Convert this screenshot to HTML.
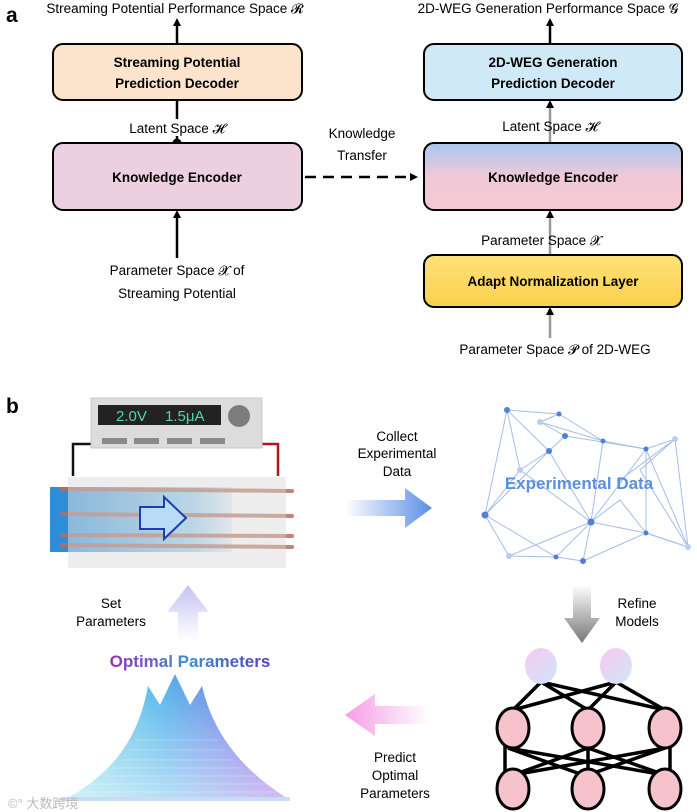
<!DOCTYPE html>
<html><head><meta charset="utf-8"><style>
body{margin:0;background:#fff;}
svg{display:block;font-family:"Liberation Sans",sans-serif;}
</style></head><body>
<svg width="697" height="812" viewBox="0 0 697 812" xmlns="http://www.w3.org/2000/svg">
<defs>
<marker id="ah" markerWidth="8" markerHeight="8" refX="4" refY="4" orient="auto" markerUnits="userSpaceOnUse" viewBox="0 0 8 8"><path d="M0,0 L8,4 L0,8z" fill="#000"/></marker>
<linearGradient id="enc2" x1="0" y1="0" x2="0" y2="1"><stop offset="0" stop-color="#a9c7ef"/><stop offset="0.5" stop-color="#efc9d8"/><stop offset="1" stop-color="#f6c9d2"/></linearGradient>
<linearGradient id="yel" x1="0" y1="0" x2="0" y2="1"><stop offset="0" stop-color="#fde27a"/><stop offset="1" stop-color="#fbcf4c"/></linearGradient>
<linearGradient id="blueArr" x1="0" y1="0" x2="1" y2="0"><stop offset="0" stop-color="#fff"/><stop offset="1" stop-color="#5b8ee6"/></linearGradient>
<linearGradient id="grayArr" x1="0" y1="0" x2="0" y2="1"><stop offset="0" stop-color="#fff"/><stop offset="1" stop-color="#777"/></linearGradient>
<linearGradient id="pinkArr" x1="1" y1="0" x2="0" y2="0"><stop offset="0" stop-color="#fff"/><stop offset="1" stop-color="#f59de6"/></linearGradient>
<linearGradient id="purpArr" x1="0" y1="1" x2="0" y2="0"><stop offset="0" stop-color="#fff"/><stop offset="1" stop-color="#c6c2f2"/></linearGradient>
<linearGradient id="optT" x1="0" y1="0" x2="1" y2="0"><stop offset="0" stop-color="#9a2fb3"/><stop offset="0.5" stop-color="#3b8fd6"/><stop offset="1" stop-color="#5a3bb8"/></linearGradient>
<linearGradient id="mtn" x1="0" y1="0" x2="1" y2="0"><stop offset="0" stop-color="#7fe0e8"/><stop offset="0.45" stop-color="#3aa8e8"/><stop offset="1" stop-color="#8a3be0"/></linearGradient>
<linearGradient id="mtnV" x1="0" y1="0" x2="0" y2="1"><stop offset="0" stop-color="#fff" stop-opacity="0"/><stop offset="1" stop-color="#fff" stop-opacity="0.6"/></linearGradient>
<linearGradient id="nodeT" x1="0" y1="0" x2="1" y2="1"><stop offset="0" stop-color="#f8c8f0"/><stop offset="1" stop-color="#cfe6f8"/></linearGradient>
<linearGradient id="chan" x1="0" y1="0" x2="1" y2="0"><stop offset="0" stop-color="#3f98dc"/><stop offset="0.8" stop-color="#a9d6f2"/><stop offset="1" stop-color="#e8f3fa"/></linearGradient>
</defs>

<text x="6" y="22" font-size="21" font-weight="bold">a</text>
<text x="175" y="13" font-size="13.5" text-anchor="middle">Streaming Potential Performance Space 𝓡</text>
<line x1="177" y1="44" x2="177" y2="22" stroke="#000" stroke-width="2.5" marker-end="url(#ah)"/>
<rect x="53" y="44" width="249" height="56" rx="10" fill="#fbe4cb" stroke="#000" stroke-width="2"/>
<text x="177" y="67" font-size="13.5" font-weight="bold" text-anchor="middle">Streaming Potential</text>
<text x="177" y="88" font-size="13.5" font-weight="bold" text-anchor="middle">Prediction Decoder</text>
<line x1="177" y1="100" x2="177" y2="143" stroke="#000" stroke-width="2.5"/>
<rect x="118" y="119" width="118" height="17" fill="#fff"/>
<text x="177" y="133" font-size="13.5" text-anchor="middle">Latent Space 𝓗</text>
<circle cx="177" cy="143" r="4.5" fill="#000"/>
<rect x="53" y="143" width="249" height="67" rx="10" fill="#ecd0df" stroke="#000" stroke-width="2"/>
<text x="177" y="182" font-size="13.5" font-weight="bold" text-anchor="middle">Knowledge Encoder</text>
<line x1="177" y1="258" x2="177" y2="214" stroke="#000" stroke-width="2.5" marker-end="url(#ah)"/>
<text x="177" y="275" font-size="13.5" text-anchor="middle">Parameter Space 𝓧 of</text>
<text x="177" y="298" font-size="13.5" text-anchor="middle">Streaming Potential</text>

<line x1="305" y1="177" x2="414" y2="177" stroke="#000" stroke-width="2.5" stroke-dasharray="11,7" marker-end="url(#ah)"/>
<text x="362" y="138" font-size="13.5" text-anchor="middle">Knowledge</text>
<text x="362" y="160" font-size="13.5" text-anchor="middle">Transfer</text>

<text x="548" y="13" font-size="13.5" text-anchor="middle">2D-WEG Generation Performance Space 𝓖</text>
<line x1="550" y1="44" x2="550" y2="22" stroke="#000" stroke-width="2.5" marker-end="url(#ah)"/>
<rect x="424" y="44" width="258" height="56" rx="10" fill="#cfe9f6" stroke="#000" stroke-width="2"/>
<text x="553" y="67" font-size="13.5" font-weight="bold" text-anchor="middle">2D-WEG Generation</text>
<text x="553" y="88" font-size="13.5" font-weight="bold" text-anchor="middle">Prediction Decoder</text>
<line x1="550" y1="143" x2="550" y2="104" stroke="#999" stroke-width="2.5" marker-end="url(#ah)"/>
<text x="550" y="131" font-size="13.5" text-anchor="middle">Latent Space 𝓗</text>
<rect x="424" y="143" width="258" height="67" rx="10" fill="url(#enc2)" stroke="#000" stroke-width="2"/>
<text x="553" y="182" font-size="13.5" font-weight="bold" text-anchor="middle">Knowledge Encoder</text>
<line x1="550" y1="255" x2="550" y2="214" stroke="#999" stroke-width="2.5" marker-end="url(#ah)"/>
<text x="541" y="245" font-size="13.5" text-anchor="middle">Parameter Space 𝓧</text>
<rect x="424" y="255" width="258" height="52" rx="10" fill="url(#yel)" stroke="#000" stroke-width="2"/>
<text x="553" y="286" font-size="13.5" font-weight="bold" text-anchor="middle">Adapt Normalization Layer</text>
<line x1="550" y1="338" x2="550" y2="311" stroke="#999" stroke-width="2.5" marker-end="url(#ah)"/>
<text x="555" y="354" font-size="13.5" text-anchor="middle">Parameter Space 𝓟 of 2D-WEG</text>

<text x="6" y="413" font-size="21" font-weight="bold">b</text>
<path d="M92,444 H73 V476" fill="none" stroke="#111" stroke-width="2.5"/>
<path d="M262,444 H278 V476" fill="none" stroke="#b01818" stroke-width="2.5"/>
<rect x="91" y="398" width="171" height="50" fill="#dcdcdc" stroke="#c8c8c8"/>
<rect x="98" y="405" width="123" height="20" fill="#222"/>
<text x="116" y="421" font-size="15" fill="#4fd6b0">2.0V</text>
<text x="165" y="421" font-size="15" fill="#4fd6b0">1.5μA</text>
<circle cx="239" cy="416" r="11" fill="#7d7d7d"/>
<rect x="102" y="438" width="25" height="6" fill="#8a8a8a"/>
<rect x="134" y="438" width="25" height="6" fill="#8a8a8a"/>
<rect x="167" y="438" width="25" height="6" fill="#8a8a8a"/>
<rect x="200" y="438" width="25" height="6" fill="#8a8a8a"/>
<rect x="50" y="487" width="182" height="65" fill="url(#chan)"/>
<rect x="50" y="487" width="18" height="65" fill="#2f8dd8"/>
<g stroke="#b86e5c" stroke-width="4" stroke-linecap="round" opacity="0.85">
<line x1="62" y1="489" x2="292" y2="491"/>
<line x1="62" y1="514" x2="292" y2="516"/>
<line x1="62" y1="535" x2="292" y2="536"/>
<line x1="62" y1="545" x2="292" y2="547"/>
</g>
<rect x="68" y="477" width="218" height="91" fill="#d8d8d8" opacity="0.45"/>
<path d="M140,507 h24 v-10 l22,21 l-22,21 v-10 h-24z" fill="#b8dcf5" stroke="#1a3fb0" stroke-width="2"/>
<text x="397" y="441" font-size="13.5" text-anchor="middle">Collect</text>
<text x="397" y="458" font-size="13.5" text-anchor="middle">Experimental</text>
<text x="397" y="476" font-size="13.5" text-anchor="middle">Data</text>
<path d="M345,500 H405 V488 L432,508 L405,528 V516 H345z" fill="url(#blueArr)"/>
<g stroke="#7fa3de" stroke-width="1" opacity="0.7" fill="none">
<polyline points="507,410 559,414 540,422 565,436 549,451 507,410"/>
<polyline points="559,414 603,441 646,449 675,439 688,547"/>
<polyline points="507,410 485,515 509,556 556,557 591,522 646,533 688,547"/>
<polyline points="485,515 556,557 583,561 591,522 549,451 485,515"/>
<polyline points="540,422 603,441 591,522 646,449 646,533 583,561"/>
<polyline points="565,436 646,449 688,547 646,533 620,500 591,522"/>
<polyline points="507,410 520,470 485,515"/>
<polyline points="549,451 520,470 591,522 509,556"/>
<polyline points="620,480 675,439 640,470 688,547"/>
</g>
<g fill="#4f7fd8">
<circle cx="507" cy="410" r="3"/><circle cx="559" cy="414" r="2.5"/><circle cx="565" cy="436" r="3"/><circle cx="549" cy="451" r="3"/><circle cx="603" cy="441" r="2.5"/><circle cx="646" cy="449" r="2.5"/><circle cx="485" cy="515" r="3.5"/><circle cx="591" cy="522" r="3.5"/><circle cx="646" cy="533" r="2.5"/><circle cx="556" cy="557" r="2.5"/><circle cx="583" cy="561" r="3"/>
</g>
<g fill="#b8cdf0"><circle cx="675" cy="439" r="3"/><circle cx="688" cy="547" r="3"/><circle cx="509" cy="556" r="3"/><circle cx="520" cy="470" r="3"/><circle cx="620" cy="480" r="3"/><circle cx="540" cy="422" r="3"/></g>
<text x="579" y="489" font-size="17" font-weight="bold" fill="#5b8fe0" text-anchor="middle">Experimental Data</text>
<path d="M573,585 H591 V618 H600 L582,643 L564,618 H573z" fill="url(#grayArr)"/>
<text x="637" y="608" font-size="13.5" text-anchor="middle">Refine</text>
<text x="637" y="626" font-size="13.5" text-anchor="middle">Models</text>
<g stroke="#000" stroke-width="3.5">
<line x1="541" y1="682" x2="513" y2="710"/><line x1="541" y1="682" x2="588" y2="710"/><line x1="541" y1="682" x2="665" y2="710"/>
<line x1="616" y1="682" x2="513" y2="710"/><line x1="616" y1="682" x2="588" y2="710"/><line x1="616" y1="682" x2="665" y2="710"/>
<line x1="505" y1="745" x2="505" y2="775"/><line x1="588" y1="745" x2="588" y2="775"/><line x1="670" y1="745" x2="670" y2="775"/>
<line x1="508" y1="748" x2="583" y2="775"/><line x1="508" y1="748" x2="665" y2="775"/>
<line x1="588" y1="748" x2="513" y2="775"/><line x1="588" y1="748" x2="665" y2="775"/>
<line x1="665" y1="748" x2="513" y2="775"/><line x1="665" y1="748" x2="588" y2="775"/>
</g>
<ellipse cx="541" cy="666" rx="16" ry="18" fill="url(#nodeT)"/>
<ellipse cx="616" cy="666" rx="16" ry="18" fill="url(#nodeT)"/>
<g fill="#f6c3cc" stroke="#000" stroke-width="3">
<ellipse cx="513" cy="728" rx="16" ry="20"/><ellipse cx="588" cy="728" rx="16" ry="20"/><ellipse cx="665" cy="728" rx="16" ry="20"/>
<ellipse cx="513" cy="789" rx="16" ry="20"/><ellipse cx="588" cy="789" rx="16" ry="20"/><ellipse cx="665" cy="789" rx="16" ry="20"/>
</g>
<path d="M430,706 H375 V694 L345,715 L375,736 V724 H430z" fill="url(#pinkArr)"/>
<text x="395" y="762" font-size="13.5" text-anchor="middle">Predict</text>
<text x="395" y="780" font-size="13.5" text-anchor="middle">Optimal</text>
<text x="395" y="798" font-size="13.5" text-anchor="middle">Parameters</text>
<path d="M178,640 V612 H167 L188,585 L209,612 H198 V640z" fill="url(#purpArr)"/>
<text x="111" y="608" font-size="13.5" text-anchor="middle">Set</text>
<text x="111" y="626" font-size="13.5" text-anchor="middle">Parameters</text>
<text x="190" y="667" font-size="17" font-weight="bold" fill="url(#optT)" text-anchor="middle">Optimal Parameters</text>
<path d="M64,800 C120,770 140,730 148,686 L160,705 L175,674 L190,705 L202,686 C212,730 240,770 290,800z" fill="url(#mtn)" opacity="0.9"/>
<path d="M64,800 C120,770 140,730 148,686 L160,705 L175,674 L190,705 L202,686 C212,730 240,770 290,800z" fill="url(#mtnV)"/>
<g stroke="#fff" stroke-width="0.6" opacity="0.5">
<line x1="70" y1="792" x2="285" y2="792"/><line x1="85" y1="784" x2="270" y2="784"/><line x1="100" y1="776" x2="255" y2="776"/><line x1="112" y1="768" x2="243" y2="768"/><line x1="122" y1="760" x2="233" y2="760"/><line x1="130" y1="750" x2="225" y2="750"/><line x1="136" y1="740" x2="218" y2="740"/>
</g>
<rect x="62" y="797" width="228" height="4" fill="#c8dcf3"/>
<text x="8" y="808" font-size="13" fill="#bbb" font-family="'Liberation Sans','Noto Sans CJK SC',sans-serif">©° 大数跨境</text>
</svg>
</body></html>
